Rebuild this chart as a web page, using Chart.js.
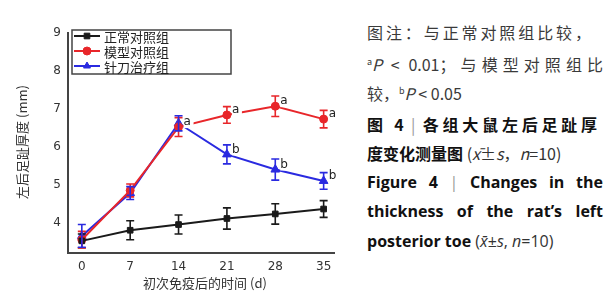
<!DOCTYPE html>
<html><head><meta charset="utf-8">
<script src="https://cdn.jsdelivr.net/npm/chart.js@4"></script>
<style>
html,body{margin:0;padding:0;background:#fff;width:615px;height:300px;overflow:hidden;}
#wrap{position:absolute;left:0;top:0;width:340px;height:300px;}
.cap{position:absolute;left:367px;width:236px;font-family:"Noto Sans CJK SC","Noto Sans",sans-serif;font-size:16px;line-height:20px;white-space:nowrap;}
.j{text-align:justify;text-align-last:justify;white-space:normal;}
.g{color:#3a3a3a;}
.b{color:#111;font-weight:bold;}
.n{font-weight:normal;color:#333;}
.bar{font-weight:normal;color:#999;}
</style></head><body>
<div id="wrap"><canvas id="c" width="340" height="300"></canvas></div>
<div class="cap g j" style="top:22px;width:224px">图注：与正常对照组比较，</div>
<div class="cap g j" style="top:52px;"><sup style="font-size:9px">a</sup><i>P</i> &lt; 0.01；与模型对照组比</div>
<div class="cap g" style="top:81px;">较，<sup style="font-size:9px">b</sup><i>P</i> &lt; 0.05</div>
<div class="cap b j" style="top:114px;width:230px">图 4 <span class="bar">|</span> 各组大鼠左后足趾厚</div>
<div class="cap b" style="top:143px;">度变化测量图 <span class="n">(<i>x̄</i>±<i>s</i>，<i>n</i>=10)</span></div>
<div class="cap b j" style="top:172px;font-family:'Open Sans','Noto Sans',sans-serif;">Figure 4 <span class="bar">|</span> Changes in the</div>
<div class="cap b j" style="top:201px;font-family:'Open Sans','Noto Sans',sans-serif;">thickness of the rat’s left</div>
<div class="cap b" style="top:231px;font-family:'Open Sans','Noto Sans',sans-serif;">posterior toe <span class="n">(<i>x̄</i>±<i>s</i>, <i>n</i>=10)</span></div>
<script>
const days = [0, 7, 14, 21, 28, 35];
const seriesNames = ["正常对照组", "模型对照组", "针刀治疗组"];
const normalMean = [3.52, 3.80, 3.95, 4.11, 4.23, 4.36];
const normalSD   = [0.18, 0.25, 0.25, 0.28, 0.27, 0.22];
const modelMean  = [3.55, 4.85, 6.52, 6.84, 7.07, 6.73];
const modelSD    = [0.22, 0.17, 0.25, 0.22, 0.27, 0.23];
const needleMean = [3.65, 4.78, 6.62, 5.80, 5.40, 5.10];
const needleSD   = [0.30, 0.17, 0.20, 0.25, 0.28, 0.22];
const modelSig   = ["", "", "a", "a", "a", "a"];
const needleSig  = ["", "", "", "b", "b", "b"];
const yTicks = [4, 5, 6, 7, 8, 9];

const colors = ["#1a1a1a", "#e8262a", "#2a2ae0"];
const shapes = ["rect", "circle", "triangle"];
const means = [normalMean, modelMean, needleMean];
const sds = [normalSD, modelSD, needleSD];
const sigs = [null, modelSig, needleSig];

const datasets = means.map((m, i) => ({
  label: seriesNames[i],
  data: days.map((d, k) => ({x: d, y: m[k]})),
  borderColor: colors[i], backgroundColor: colors[i],
  borderWidth: 2, pointStyle: shapes[i],
  pointRadius: i === 2 ? 5 : 4, pointBorderWidth: 1,
  sd: sds[i], sig: sigs[i], tension: 0
}));

const decor = {
  id: "decor",
  afterDatasetsDraw(chart) {
    const ctx = chart.ctx, ys = chart.scales.y;
    // label backgrounds (gaps in the lines behind the significance letters)
    chart.data.datasets.forEach((ds, i) => {
      if (!ds.sig) return;
      const meta = chart.getDatasetMeta(i);
      meta.data.forEach((pt, k) => {
        if (ds.sig[k]) { ctx.fillStyle = "#fff"; ctx.fillRect(pt.x + 5, pt.y - 12, 10, 13); }
      });
    });
    chart.data.datasets.forEach((ds, i) => {
      const meta = chart.getDatasetMeta(i);
      ctx.save();
      ctx.strokeStyle = ds.borderColor; ctx.lineWidth = 1.6;
      meta.data.forEach((pt, k) => {
        const v = ds.data[k].y, e = ds.sd[k];
        const y1 = ys.getPixelForValue(v - e), y2 = ys.getPixelForValue(v + e);
        ctx.beginPath();
        ctx.moveTo(pt.x, y1); ctx.lineTo(pt.x, y2);
        ctx.moveTo(pt.x - 4, y1); ctx.lineTo(pt.x + 4, y1);
        ctx.moveTo(pt.x - 4, y2); ctx.lineTo(pt.x + 4, y2);
        ctx.stroke();
        if (ds.sig && ds.sig[k]) {
          ctx.fillStyle = "#222";
          ctx.font = "12px 'DejaVu Sans', sans-serif";
          ctx.textBaseline = "middle"; ctx.textAlign = "left";
          ctx.fillText(ds.sig[k], pt.x + 5, pt.y - 5);
        }
      });
      ctx.restore();
    });
    // legend
    ctx.save();
    ctx.fillStyle = "#fff"; ctx.fillRect(72, 30, 159, 44);
    ctx.strokeStyle = "#444"; ctx.lineWidth = 1.5; ctx.strokeRect(72, 30, 159, 44);
    const ly = [36, 51, 66];
    chart.data.datasets.forEach((ds, i) => {
      ctx.strokeStyle = ds.borderColor; ctx.fillStyle = ds.borderColor; ctx.lineWidth = 2;
      ctx.beginPath(); ctx.moveTo(74, ly[i]); ctx.lineTo(100, ly[i]); ctx.stroke();
      ctx.lineWidth = 1;
      Chart.helpers.drawPoint(ctx, {pointStyle: ds.pointStyle, radius: 4, borderWidth: 1}, 87, ly[i]);
      ctx.fillStyle = "#222";
      ctx.font = "13px 'Noto Sans CJK SC', sans-serif";
      ctx.textBaseline = "middle"; ctx.textAlign = "left";
      ctx.fillText(ds.label, 104, ly[i] + 1);
    });
    ctx.restore();
    // axis titles
    ctx.save();
    ctx.fillStyle = "#333";
    ctx.font = "13px 'Noto Sans CJK SC', sans-serif";
    ctx.textAlign = "center"; ctx.textBaseline = "middle";
    ctx.fillText("初次免疫后的时间 (d)", 205, 283);
    ctx.translate(22, 142); ctx.rotate(-Math.PI / 2);
    ctx.fillText("左后足趾厚度 (mm)", 0, 0);
    ctx.restore();
  }
};

new Chart(document.getElementById("c"), {
  type: "line",
  data: {datasets},
  options: {
    responsive: false, animation: false, events: [],
    layout: {padding: {top: 33, right: 2, left: 0, bottom: 0}},
    plugins: {legend: {display: false}, tooltip: {enabled: false}},
    scales: {
      x: {
        type: "linear", min: -2, max: 36.5,
        afterBuildTicks: s => { s.ticks = days.map(v => ({value: v})); },
        afterFit: s => { s.height = 47; },
        grid: {display: false, drawTicks: true, tickLength: 4, color: "#444"},
        border: {color: "#444", width: 2},
        ticks: {color: "#333", font: {size: 12, family: "'DejaVu Sans', sans-serif"}, padding: 3, maxRotation: 0}
      },
      y: {
        min: 3.2, max: 9,
        afterBuildTicks: s => { s.ticks = yTicks.map(v => ({value: v})); },
        afterFit: s => { s.width = 68; },
        grid: {display: false, drawTicks: true, tickLength: 4, color: "#444"},
        border: {color: "#444", width: 2},
        ticks: {color: "#333", font: {size: 12, family: "'DejaVu Sans', sans-serif"}, padding: 3}
      }
    }
  },
  plugins: [decor]
});
</script>
</body></html>
